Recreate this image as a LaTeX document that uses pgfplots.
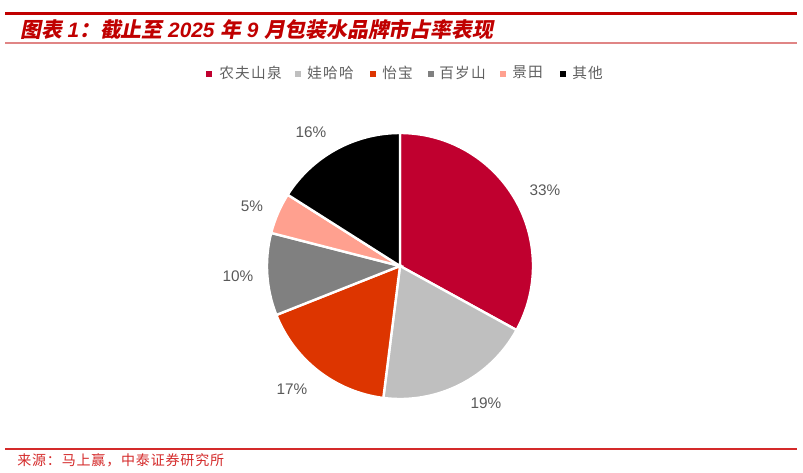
\documentclass[border=0pt]{standalone}
\usepackage{fontspec}
\setmainfont{Liberation Sans}
\newfontfamily\cjkb{Noto Sans CJK SC}[UprightFont={* Bold}, FakeSlant=0.2]
\newfontfamily\cjkls{Noto Sans CJK SC}[LetterSpace=9]
\newfontfamily\cjksrc{Noto Sans CJK SC}[LetterSpace=6]
\usepackage{pgfplots}
\usepackage{pgfplotstable}
\pgfplotsset{compat=1.18}

\definecolor{c1}{HTML}{C0002F}
\definecolor{c2}{HTML}{BFBFBF}
\definecolor{c3}{HTML}{DD3500}
\definecolor{c4}{HTML}{808080}
\definecolor{c5}{HTML}{FFA08F}
\definecolor{c6}{HTML}{000000}
\definecolor{titlered}{HTML}{C00000}
\definecolor{linepink}{HTML}{E08585}
\definecolor{srcred}{HTML}{D42A2A}
\definecolor{lblgray}{HTML}{595959}
\definecolor{leggray}{HTML}{606060}

\tikzset{
  pct/.style={text=lblgray, font=\fontsize{11.5}{13}\selectfont, inner sep=0pt},
  legtxt/.style={anchor=west, inner sep=0pt, text=leggray, font=\cjkls\fontsize{11}{13}\selectfont},
}

% share in %, slice colour, label position (px)
\pgfplotstableread{
share col lx ly
33 c1 545 190
19 c2 486 403
17 c3 292 389
10 c4 238 276
5  c5 252 206
16 c6 311 132
}\pietable
\pgfplotstablecreatecol[create col/expr accum={\pgfmathaccuma + \thisrow{share}}{0}]{cum}\pietable

\begin{document}
\begin{tikzpicture}
\begin{axis}[
  width=602.25pt, height=354pt, scale only axis,
  xmin=0, xmax=803, ymin=0, ymax=472, y dir=reverse,
  hide axis, clip=false,
]
  \path (axis cs:0,0) rectangle (axis cs:803,472);

  % header rules and title
  \draw[titlered, line width=2.25pt] (axis cs:5,13.5) -- (axis cs:797,13.5);
  \draw[linepink, line width=1.2pt] (axis cs:5,43) -- (axis cs:797,43);
  \node[anchor=base west, inner sep=0pt, text=titlered,
        font=\fontsize{15.6}{17}\selectfont\bfseries\itshape] at (axis cs:20,37.5)
    {{\cjkb 图表} 1{\cjkb ：截止至} 2025 {\cjkb 年} 9 {\cjkb 月包装水品牌市占率表现}};

  % pie slices, clockwise from 12 o'clock
  \pgfplotsinvokeforeach{0,...,5}{
    \pgfplotstablegetelem{#1}{share}\of\pietable \let\sh\pgfplotsretval
    \pgfplotstablegetelem{#1}{cum}\of\pietable \let\cu\pgfplotsretval
    \pgfplotstablegetelem{#1}{col}\of\pietable \let\co\pgfplotsretval
    \pgfplotstablegetelem{#1}{lx}\of\pietable \let\lx\pgfplotsretval
    \pgfplotstablegetelem{#1}{ly}\of\pietable \let\ly\pgfplotsretval
    \pgfmathsetmacro\aa{90-3.6*(\cu-\sh)}
    \pgfmathsetmacro\ab{90-3.6*\cu}
    \edef\piecmd{\noexpand\fill[\co, draw=white, line width=1.8pt] (axis cs:400,266)
        -- ++(\aa:99.75pt) arc[start angle=\aa, end angle=\ab, radius=99.75pt] -- cycle;
      \noexpand\node[pct] at (axis cs:\lx,\ly) {\sh\noexpand\%};}
    \piecmd
  }

  % legend
  \fill[c1] (axis cs:206,71) rectangle (axis cs:212,77);
  \node[legtxt] at (axis cs:219,72.5) {农夫山泉};
  \fill[c2] (axis cs:295,71) rectangle (axis cs:301,77);
  \node[legtxt] at (axis cs:307,72.5) {娃哈哈};
  \fill[c3] (axis cs:370,71) rectangle (axis cs:376,77);
  \node[legtxt] at (axis cs:382,72.5) {怡宝};
  \fill[c4] (axis cs:428,71) rectangle (axis cs:434,77);
  \node[legtxt] at (axis cs:439,72.5) {百岁山};
  \fill[c5] (axis cs:500,71) rectangle (axis cs:506,77);
  \node[legtxt] at (axis cs:512,72.5) {景田};
  \fill[c6] (axis cs:560,71) rectangle (axis cs:566,77);
  \node[legtxt] at (axis cs:572,72.5) {其他};

  % source
  \draw[srcred, line width=1.1pt] (axis cs:5,449) -- (axis cs:797,449);
  \node[anchor=west, inner sep=0pt, text=srcred, font=\cjksrc\fontsize{10.5}{12}\selectfont]
    at (axis cs:17,460) {来源：马上赢，中泰证券研究所};
\end{axis}
\end{tikzpicture}
\end{document}
